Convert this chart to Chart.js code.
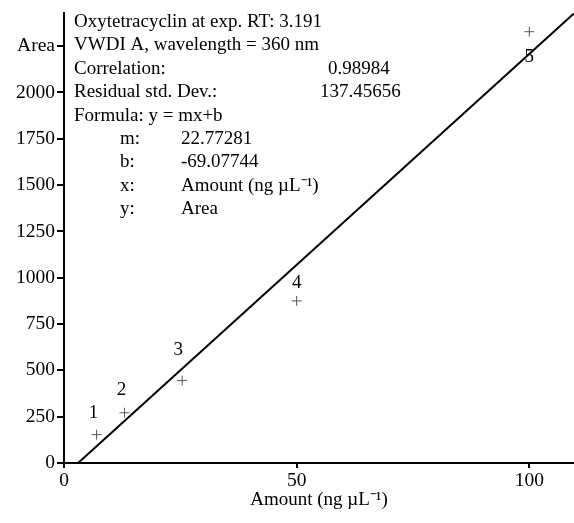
<!DOCTYPE html>
<html>
<head>
<meta charset="utf-8">
<style>
  html, body { margin: 0; padding: 0; background: #fff; }
  #chart { display: block; }
</style>
<script src="https://cdn.jsdelivr.net/npm/chart.js@4/dist/chart.umd.min.js"></script>
</head>
<body>
<canvas id="chart" width="574" height="523"></canvas>
<script>
'use strict';

//*****DATA******/

let amounts = [7, 13, 25.4, 50, 100];
let areas = [153, 271, 445, 875, 2328];
let pointLabels = ['1', '2', '3', '4', '5'];

let slope = 22.77281;
let intercept = -69.07744;

let xTicks = [0, 50, 100];
let yTicks = [0, 250, 500, 750, 1000, 1250, 1500, 1750, 2000, 2250];
let yTopLabel = 'Area';

let infoLines = [
  ['Oxytetracyclin at exp. RT: 3.191', ''],
  ['VWDI A, wavelength = 360 nm', ''],
  ['Correlation:', '0.98984'],
  ['Residual std. Dev.:', '137.45656'],
  ['Formula: y = mx+b', ''],
  ['m:', '22.77281'],
  ['b:', '-69.07744'],
  ['x:', 'Amount (ng \u00b5L\u207b\u00b9)'],
  ['y:', 'Area']
];

//*****STYLE******/

let fontFamily = '"Liberation Serif", "Times New Roman", serif';
let xMax = 109.6;
let yMax = 2429;

// where each number sits relative to its point (px)
let labelOffsets = [[-3, -22], [-3, -23], [-4, -31], [0, -18], [0, 25]];

//*****FIT LINE******/

let fitStart = -intercept / slope;
let fitLine = [
  { x: fitStart, y: 0 },
  { x: xMax, y: slope * xMax + intercept }
];

let points = amounts.map((a, i) => ({ x: a, y: areas[i] }));

//*****PLUGINS******/

let infoPlugin = {
  id: 'infoText',
  afterDraw(chart) {
    let ctx = chart.ctx;
    ctx.save();
    ctx.fillStyle = '#000';
    ctx.font = '19px ' + fontFamily;
    ctx.textBaseline = 'middle';
    ctx.textAlign = 'left';
    for (let i = 0; i < infoLines.length; i++) {
      let y = 22 + i * 23.4;
      let left = infoLines[i][0];
      let right = infoLines[i][1];
      if (i >= 5) {
        ctx.fillText(left, 120, y);
        ctx.fillText(right, 181, y);
      } else {
        ctx.fillText(left, 74, y);
        if (i === 2) ctx.fillText(right, 328, y);
        if (i === 3) ctx.fillText(right, 320, y);
      }
    }

    // numbers next to the points
    let meta = chart.getDatasetMeta(1);
    ctx.font = '19px ' + fontFamily;
    ctx.textAlign = 'center';
    meta.data.forEach((pt, i) => {
      ctx.fillText(pointLabels[i], pt.x + labelOffsets[i][0], pt.y + labelOffsets[i][1]);
    });
    ctx.restore();
  }
};

//*****CHART******/

let canvasElem = document.getElementById('chart');

let chartObj = {
  type: 'scatter',
  data: {
    datasets: [{
      type: 'line',
      data: fitLine,
      borderColor: '#000',
      borderWidth: 2,
      pointRadius: 0,
      fill: false,
      order: 2
    },
    {
      data: points,
      pointStyle: 'cross',
      pointRadius: 5,
      borderColor: '#555',
      borderWidth: 1,
      backgroundColor: '#555',
      order: 1
    }]
  },
  options: {
    responsive: false,
    animation: false,
    devicePixelRatio: 1,
    layout: { autoPadding: false, padding: { top: 13, right: 0, left: 0, bottom: 0 } },
    plugins: {
      legend: { display: false },
      tooltip: { enabled: false }
    },
    scales: {
      x: {
        type: 'linear',
        min: 0,
        max: xMax,
        afterFit(scale) {
          scale.height = 60;
          scale.paddingRight = 0;
          scale.paddingLeft = 0;
        },
        afterBuildTicks(scale) { scale.ticks = xTicks.map(v => ({ value: v })); },
        border: { color: '#000', width: 2 },
        grid: { drawOnChartArea: false, tickLength: 5, color: '#000', lineWidth: 2 },
        ticks: { color: '#000', font: { family: fontFamily, size: 19.5 }, padding: 1, maxRotation: 0 },
        title: {
          display: true,
          text: 'Amount (ng \u00b5L\u207b\u00b9)',
          color: '#000',
          font: { family: fontFamily, size: 19 },
          padding: { top: 0, bottom: 12 }
        }
      },
      y: {
        type: 'linear',
        min: 0,
        max: yMax,
        afterFit(scale) {
          scale.width = 64;
          scale.paddingTop = 0;
          scale.paddingBottom = 0;
        },
        afterBuildTicks(scale) { scale.ticks = yTicks.map(v => ({ value: v })); },
        border: { color: '#000', width: 2 },
        grid: { drawOnChartArea: false, tickLength: 7, color: '#000', lineWidth: 2 },
        ticks: {
          color: '#000',
          font: { family: fontFamily, size: 19.5 },
          padding: 2,
          callback: (value) => value === 2250 ? yTopLabel : value
        }
      }
    }
  },
  plugins: [infoPlugin]
};

new Chart(canvasElem, chartObj);
</script>
</body>
</html>
